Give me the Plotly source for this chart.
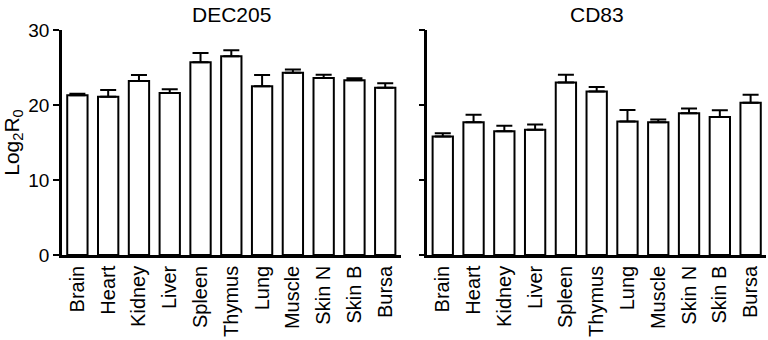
import plotly.graph_objects as go
from plotly.subplots import make_subplots

tissues = ["Brain", "Heart", "Kidney", "Liver", "Spleen", "Thymus",
           "Lung", "Muscle", "Skin N", "Skin B", "Bursa"]

dec205_mean = [21.3, 21.1, 23.2, 21.6, 25.7, 26.5, 22.5, 24.3, 23.6, 23.3, 22.3]
dec205_err = [0.2, 0.9, 0.8, 0.5, 1.25, 0.8, 1.5, 0.45, 0.45, 0.27, 0.6]

cd83_mean = [15.8, 17.7, 16.5, 16.7, 23.0, 21.8, 17.8, 17.7, 18.9, 18.4, 20.3]
cd83_err = [0.45, 1.0, 0.75, 0.7, 1.05, 0.6, 1.55, 0.36, 0.63, 0.9, 1.07]

y_ticks = [0, 10, 20, 30]

FONT = "Liberation Sans, Arial, sans-serif"

fig = make_subplots(rows=1, cols=2, horizontal_spacing=0.038,
                    subplot_titles=("DEC205", "CD83"))

for col, (mean, err) in enumerate([(dec205_mean, dec205_err), (cd83_mean, cd83_err)], start=1):
    fig.add_trace(
        go.Bar(
            x=tissues,
            y=mean,
            marker=dict(color="white", line=dict(color="black", width=2)),
            error_y=dict(type="data", symmetric=False, array=err,
                         arrayminus=[0] * len(err), color="black",
                         thickness=2, width=8),
            showlegend=False,
        ),
        row=1, col=col,
    )

axis_common = dict(showline=True, linecolor="black", linewidth=2.5,
                   showgrid=False, zeroline=False, mirror=False)

for col in (1, 2):
    fig.update_xaxes(axis_common, row=1, col=col, ticks="", tickangle=-90,
                     range=[-0.5, 10.5],
                     tickfont=dict(family=FONT, size=20, color="black"))
    fig.update_yaxes(axis_common, row=1, col=col, range=[0, 30],
                     tickvals=y_ticks, ticks="outside", ticklen=6,
                     tickwidth=2, tickcolor="black",
                     showticklabels=(col == 1),
                     tickfont=dict(family=FONT, size=19, color="black"))

fig.update_yaxes(title=dict(text="Log<sub>2</sub>R<sub>0</sub>",
                            font=dict(family=FONT, size=21, color="black"),
                            standoff=6), row=1, col=1)

for ann in fig.layout.annotations:
    ann.font = dict(family=FONT, size=21, color="black")
    ann.yshift = 2

fig.update_layout(
    width=768,
    height=340,
    bargap=0.34,
    plot_bgcolor="white",
    paper_bgcolor="white",
    margin=dict(l=62, r=2, t=30, b=85),
    font=dict(family=FONT, color="black"),
)

fig.write_html("out.html", config={"displayModeBar": False},
               post_script="document.body.style.margin='0';")
